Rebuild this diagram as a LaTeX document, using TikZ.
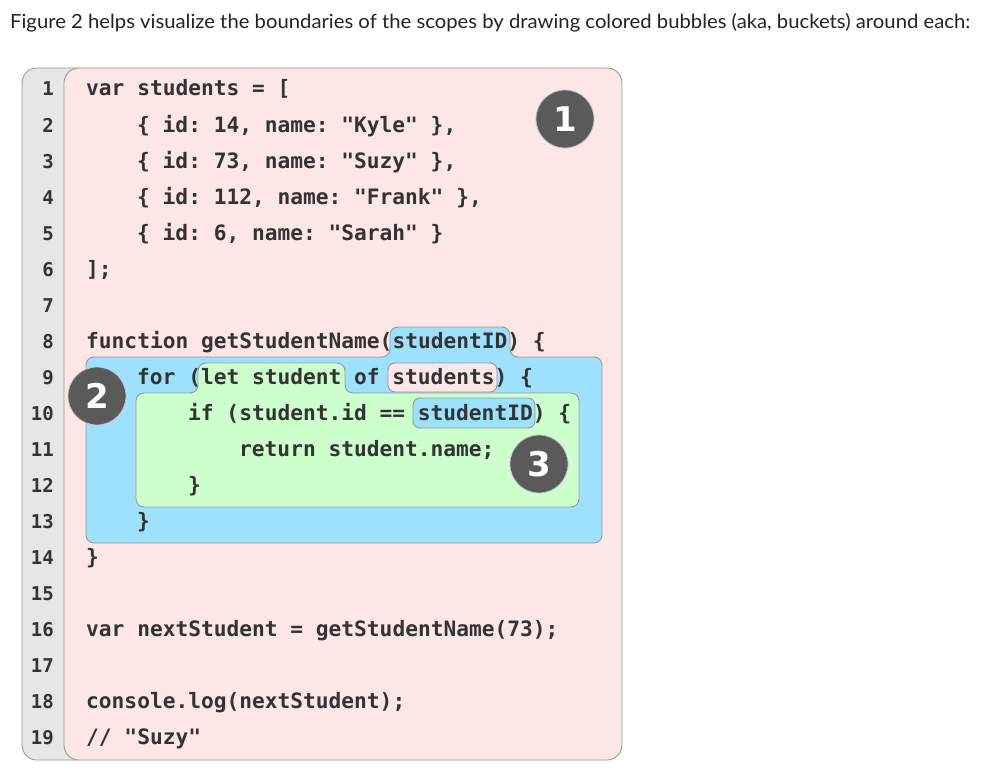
\documentclass[tikz,border=0pt]{standalone}
\usepackage{fontspec}
\newfontfamily\codefont{DejaVu Sans Mono}
\newfontfamily\capfont{Lato}
\newfontfamily\badgefont{DejaVu Sans}
\definecolor{pinkfill}{HTML}{FCE6E6}
\definecolor{gutterfill}{HTML}{E6E6E6}
\definecolor{bluefill}{HTML}{9EE1FF}
\definecolor{greenfill}{HTML}{CCFFCC}
\definecolor{edgegray}{HTML}{999999}
\definecolor{badgegray}{HTML}{5A5A5A}
\definecolor{codetext}{HTML}{333333}
\definecolor{captext}{HTML}{222222}
\tikzset{
  code/.style={anchor=base west, inner sep=0pt, text=codetext,
    font=\codefont\bfseries\fontsize{21.2}{24}\selectfont\frenchspacing},
  lnum/.style={anchor=base east, inner sep=0pt, text=codetext,
    font=\codefont\bfseries\fontsize{19}{24}\selectfont},
  bubble/.style={draw=edgegray, line width=0.9pt},
  badge/.style={circle, fill=badgegray, draw=edgegray!60, line width=0.8pt,
    minimum size=58pt, inner sep=0pt, text=white,
    font=\badgefont\bfseries\fontsize{34}{34}\selectfont},
}
\begin{document}
\begin{tikzpicture}[x=1pt, y=-1pt]
\useasboundingbox (0,0) rectangle (984,778);
% caption
\node[anchor=base west, inner sep=0pt, text=captext] (cap) at (10,29)
  {\resizebox{960pt}{\height}{\capfont\fontsize{19.5}{22}\selectfont Figure 2 helps visualize the boundaries of the scopes by drawing colored bubbles (aka, buckets) around each:}};
% gutter and scope 1
\draw[bubble, fill=gutterfill, rounded corners=15] (22,68) rectangle (90,760);
\draw[bubble, fill=pinkfill, rounded corners=15] (64,68) rectangle (622,760);
% scope 2 (blue)
\draw[bubble, fill=bluefill, rounded corners=8]
  (86,450) -- (86,357) -- (390,357) -- (390,327) -- (510,327) -- (510,357)
  -- (602,357) -- (602,543) -- (86,543) -- cycle;
% students reference (pink)
\draw[bubble, fill=pinkfill, rounded corners=7] (388,363) rectangle (497,392);
% scope 3 (green)
\draw[bubble, fill=greenfill, rounded corners=8]
  (136,450) -- (136,393) -- (198,393) -- (198,363) -- (345,363) -- (345,393)
  -- (579,393) -- (579,507) -- (136,507) -- cycle;
% studentID reference (blue)
\draw[bubble, fill=bluefill, rounded corners=7] (413,398) rectangle (535,428);
% line numbers
\foreach \n in {1,...,19}
  \node[lnum] (n\n) at (54,{96+(\n-1)*36.05}) {\n};
% code
\node[code] (c1)  at ({86+0*12.75},{96+0*36.05})  {var students = [};
\node[code] (c2)  at ({86+4*12.75},{96+1*36.05})  {\{ id: 14, name: "Kyle" \},};
\node[code] (c3)  at ({86+4*12.75},{96+2*36.05})  {\{ id: 73, name: "Suzy" \},};
\node[code] (c4)  at ({86+4*12.75},{96+3*36.05})  {\{ id: 112, name: "Frank" \},};
\node[code] (c5)  at ({86+4*12.75},{96+4*36.05})  {\{ id: 6, name: "Sarah" \}};
\node[code] (c6)  at ({86+0*12.75},{96+5*36.05})  {];};
\node[code] (c8)  at ({86+0*12.75},{96+7*36.05})  {function getStudentName(studentID) \{};
\node[code] (c9)  at ({86+4*12.75},{96+8*36.05})  {for (let student of students) \{};
\node[code] (c10) at ({86+8*12.75},{96+9*36.05})  {if (student.id == studentID) \{};
\node[code] (c11) at ({86+12*12.75},{96+10*36.05}) {return student.name;};
\node[code] (c12) at ({86+8*12.75},{96+11*36.05}) {\}};
\node[code] (c13) at ({86+4*12.75},{96+12*36.05}) {\}};
\node[code] (c14) at ({86+0*12.75},{96+13*36.05}) {\}};
\node[code] (c16) at ({86+0*12.75},{96+15*36.05}) {var nextStudent = getStudentName(73);};
\node[code] (c18) at ({86+0*12.75},{96+17*36.05}) {console.log(nextStudent);};
\node[code] (c19) at ({86+0*12.75},{96+18*36.05}) {// "Suzy"};
% badges
\node[badge] (b1) at (565,119) {1};
\node[badge] (b2) at (97,396) {2};
\node[badge] (b3) at (539,464) {3};
\end{tikzpicture}
\end{document}
